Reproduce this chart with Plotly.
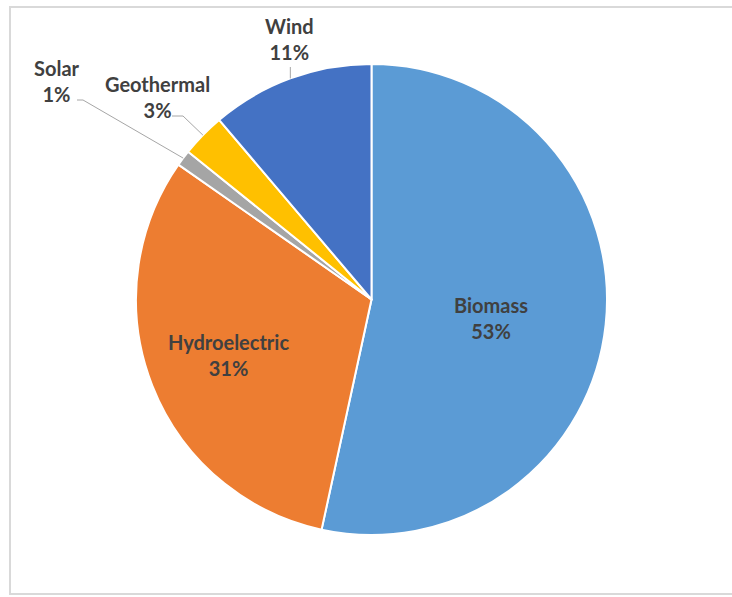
import math
import plotly.graph_objects as go

# ---- data ----
labels = ["Biomass", "Hydroelectric", "Solar", "Geothermal", "Wind"]
values = [53.4, 31.3, 1.1, 3.0, 11.2]
colors = ["#5B9BD5", "#ED7D31", "#A5A5A5", "#FFC000", "#4472C4"]

# ---- layout constants (pixels) ----
W, H = 732, 597
DOM_X = (136, 607)
DOM_Y = (64, 535)  # from top
CX = (DOM_X[0] + DOM_X[1]) / 2
CY = (DOM_Y[0] + DOM_Y[1]) / 2
R = min(DOM_X[1] - DOM_X[0], DOM_Y[1] - DOM_Y[0]) / 2

TEXT_COLOR = "#404040"
FONT = "Lato"
FS = 20
LEADER_COLOR = "#A6A6A6"

# inside label: radius fraction and small pixel nudge
inside_rf = {"Biomass": (0.51, 0, 6), "Hydroelectric": (0.65, 0, 0)}
# outside label block centres and leader knee/end points (pixels)
outside = {
    "Solar": {"text": (57, 81), "knee": (83, 100), "end": (77, 100)},
    "Geothermal": {"text": (157, 97), "knee": (183, 116), "end": (172, 116)},
    "Wind": {"text": (289, 39), "knee": None, "end": (None, 67)},
}


def px(x):
    return x / W


def py(y):
    return 1 - y / H


total = sum(values)
fig = go.Figure(
    go.Pie(
        labels=labels,
        values=values,
        sort=False,
        direction="clockwise",
        rotation=0,
        marker=dict(colors=colors, line=dict(color="white", width=2)),
        textinfo="none",
        hoverinfo="label+percent",
        showlegend=False,
        domain=dict(x=[px(DOM_X[0]), px(DOM_X[1])], y=[py(DOM_Y[1]), py(DOM_Y[0])]),
    )
)

annotations = []
shapes = []
cum = 0.0
for lab, v in zip(labels, values):
    start = cum / total * 360
    cum += v
    end = cum / total * 360
    mid = math.radians((start + end) / 2)
    pct = f"{round(v / total * 100)}%"
    text = f"<b>{lab}</b><br><b>{pct}</b>"
    if lab in inside_rf:
        rf, nx, ny = inside_rf[lab]
        tx = CX + rf * R * math.sin(mid) + nx
        ty = CY - rf * R * math.cos(mid) + ny
    else:
        o = outside[lab]
        tx, ty = o["text"]
        ex = CX + R * math.sin(mid)
        ey = CY - R * math.cos(mid)
        if o["knee"] is None:
            path = f"M {px(ex)},{py(ey)} L {px(ex)},{py(o['end'][1])}"
        else:
            kx, ky = o["knee"]
            lx, ly = o["end"]
            path = f"M {px(ex)},{py(ey)} L {px(kx)},{py(ky)} L {px(lx)},{py(ly)}"
        shapes.append(dict(type="path", xref="paper", yref="paper", path=path,
                           line=dict(color=LEADER_COLOR, width=1)))
    annotations.append(dict(
        x=px(tx), y=py(ty), xref="paper", yref="paper", text=text,
        showarrow=False, xanchor="center", yanchor="middle", align="center",
        font=dict(family=FONT, size=FS, color=TEXT_COLOR),
    ))

# chart border
shapes.append(dict(type="rect", xref="paper", yref="paper",
                   x0=px(10), x1=px(745), y0=py(594), y1=py(7),
                   line=dict(color="#D9D9D9", width=2), fillcolor="rgba(0,0,0,0)"))

fig.update_layout(
    width=W, height=H,
    margin=dict(l=0, r=0, t=0, b=0),
    paper_bgcolor="white",
    plot_bgcolor="white",
    annotations=annotations,
    shapes=shapes,
)

fig.write_html("out.html")
